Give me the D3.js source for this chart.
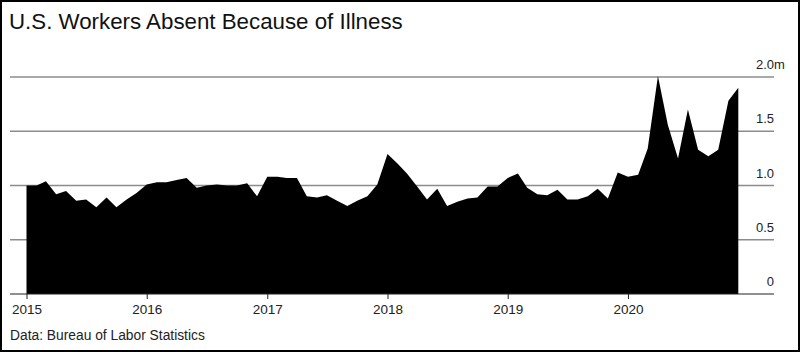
<!DOCTYPE html>
<html>
<head>
<meta charset="utf-8">
<script src="https://cdn.jsdelivr.net/npm/d3@7"></script>
<style>
  body { margin: 0; background: #fff; }
  svg { display: block; font-family: "Liberation Sans", Arial, sans-serif; }
</style>
</head>
<body>
<svg width="800" height="352"></svg>
<script>
const title = "U.S. Workers Absent Because of Illness";
const source = "Data: Bureau of Labor Statistics";

// monthly values, millions of workers, Jan 2015 - Dec 2020
const absent2015 = [1.00, 1.00, 1.04, 0.92, 0.95, 0.86, 0.87, 0.80, 0.89, 0.80, 0.87, 0.93];
const absent2016 = [1.01, 1.03, 1.03, 1.05, 1.07, 0.98, 1.00, 1.01, 1.00, 1.00, 1.02, 0.90];
const absent2017 = [1.08, 1.08, 1.07, 1.07, 0.90, 0.89, 0.91, 0.86, 0.81, 0.86, 0.90, 1.01];
const absent2018 = [1.29, 1.20, 1.11, 0.99, 0.87, 0.97, 0.81, 0.85, 0.88, 0.89, 0.99, 0.99];
const absent2019 = [1.07, 1.11, 0.98, 0.92, 0.91, 0.96, 0.87, 0.87, 0.90, 0.97, 0.88, 1.12];
const absent2020 = [1.08, 1.10, 1.34, 2.01, 1.56, 1.25, 1.70, 1.33, 1.27, 1.33, 1.78, 1.90];

const years = [2015, 2016, 2017, 2018, 2019, 2020];
const yTicks = [0, 0.5, 1, 1.5, 2];
const yTickLabels = ["0", "0.5", "1.0", "1.5", "2.0"];

const values = [].concat(absent2015, absent2016, absent2017, absent2018, absent2019, absent2020);
const months = d3.timeMonths(new Date(2015, 0, 1), new Date(2021, 0, 1));
const data = months.map((d, i) => ({ date: d, value: values[i] }));

const svg = d3.select("svg");
const width = 800, height = 352;

const x = d3.scaleTime()
  .domain([new Date(2015, 0, 1), new Date(2020, 11, 1)])
  .range([26.5, 738.3]);

const y = d3.scaleLinear()
  .domain([0, 2])
  .range([294, 77]);

const left = 10, right = 774;

// frame
svg.append("rect")
  .attr("x", 1).attr("y", 1)
  .attr("width", width - 2).attr("height", height - 2)
  .attr("fill", "none")
  .attr("stroke", "#000")
  .attr("stroke-width", 2);

// title
svg.append("text")
  .attr("x", 9).attr("y", 29)
  .attr("font-size", 22.3)
  .attr("fill", "#111")
  .text(title);

// gridlines (under the area)
svg.append("g")
  .selectAll("line")
  .data(yTicks.filter(d => d > 0))
  .join("line")
  .attr("x1", left).attr("x2", right)
  .attr("y1", d => y(d)).attr("y2", d => y(d))
  .attr("stroke", "#8c8c8c")
  .attr("stroke-width", 1.5);

// area
const area = d3.area()
  .x(d => x(d.date))
  .y0(y(0))
  .y1(d => y(d.value));

svg.append("path")
  .datum(data)
  .attr("d", area)
  .attr("fill", "#000");

// y labels
const yLab = svg.append("g")
  .attr("font-size", 13)
  .attr("fill", "#222")
  .attr("text-anchor", "end");

yLab.selectAll("text")
  .data(yTicks)
  .join("text")
  .attr("x", right)
  .attr("y", d => y(d) - 8)
  .text((d, i) => yTickLabels[i]);

// unit suffix hangs past the labels
svg.append("text")
  .attr("x", right)
  .attr("y", y(2) - 8)
  .attr("font-size", 13)
  .attr("fill", "#222")
  .text("m");

// x axis
const xAxis = svg.append("g")
  .attr("transform", `translate(0,${y(0)})`)
  .call(d3.axisBottom(x)
    .tickValues(years.map(yr => new Date(yr, 0, 1)))
    .tickFormat(d3.timeFormat("%Y"))
    .tickSize(5)
    .tickPadding(5));

xAxis.select(".domain").remove();
xAxis.append("line")
  .attr("x1", left).attr("x2", right)
  .attr("stroke", "#222")
  .attr("stroke-width", 1.2);
xAxis.selectAll(".tick line").attr("stroke", "#222");
xAxis.selectAll(".tick text")
  .attr("font-size", 13.5)
  .attr("font-family", "Liberation Sans, Arial, sans-serif")
  .attr("fill", "#222");

// source
svg.append("text")
  .attr("x", 10).attr("y", 340)
  .attr("font-size", 13.8)
  .attr("fill", "#222")
  .text(source);
</script>
</body>
</html>
